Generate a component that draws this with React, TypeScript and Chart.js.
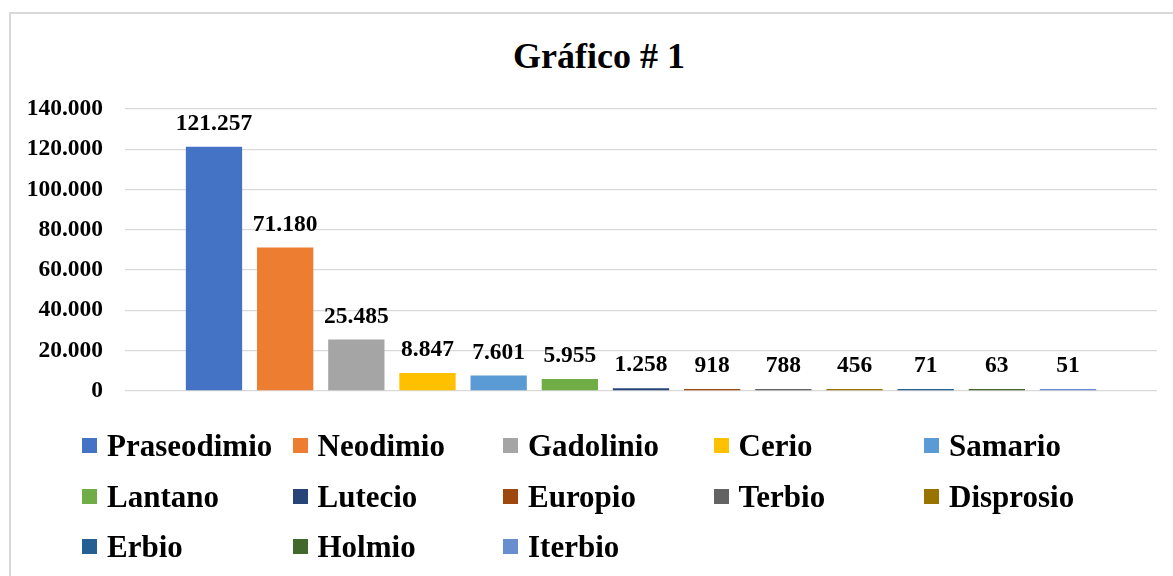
import React, { useEffect, useRef } from "react";
import { Chart, registerables } from "chart.js";

Chart.register(...registerables);

const TITLE = "Gráfico # 1";
const ELEMENTS = [
  "Praseodimio",
  "Neodimio",
  "Gadolinio",
  "Cerio",
  "Samario",
  "Lantano",
  "Lutecio",
  "Europio",
  "Terbio",
  "Disprosio",
  "Erbio",
  "Holmio",
  "Iterbio",
];
const VALUES = [121257, 71180, 25485, 8847, 7601, 5955, 1258, 918, 788, 456, 71, 63, 51];
const COLORS = [
  "#4472C4",
  "#ED7D31",
  "#A5A5A5",
  "#FFC000",
  "#5B9BD5",
  "#70AD47",
  "#264478",
  "#9E480E",
  "#636363",
  "#997300",
  "#255E91",
  "#43682B",
  "#698ED0",
];
const Y_MIN = 0;
const Y_MAX = 140000;
const Y_STEP = 20000;

const FONT = "'Liberation Serif', 'Times New Roman', serif";

function fmt(v: number): string {
  return String(Math.round(v)).replace(/\B(?=(\d{3})+(?!\d))/g, ".");
}

const valueLabels = {
  id: "valueLabels",
  afterDatasetsDraw(chart: any) {
    const ctx = chart.ctx;
    ctx.save();
    ctx.font = `bold 23.5px ${FONT}`;
    ctx.fillStyle = "#000000";
    ctx.textAlign = "center";
    ctx.textBaseline = "alphabetic";
    chart.data.datasets.forEach((ds: any, i: number) => {
      const meta = chart.getDatasetMeta(i);
      meta.data.forEach((el: any, j: number) => {
        const v = ds.data[j];
        ctx.fillText(fmt(v), el.x, el.y - 17);
      });
    });
    ctx.restore();
  },
};

export default function App() {
  const canvasRef = useRef<HTMLCanvasElement | null>(null);

  useEffect(() => {
    if (!canvasRef.current) return;
    const chart = new Chart(canvasRef.current, {
      type: "bar",
      data: {
        labels: [""],
        datasets: ELEMENTS.map((name, i) => ({
          label: name,
          data: [VALUES[i]],
          backgroundColor: COLORS[i],
          borderWidth: 0,
          minBarLength: 2,
        })),
      },
      options: {
        responsive: false,
        animation: false,
        devicePixelRatio: 1,
        datasets: {
          bar: {
            categoryPercentage: 0.8965,
            barPercentage: 0.791,
          },
        },
        layout: {
          padding: { left: 27, right: 16, top: 109, bottom: 10 },
        },
        plugins: {
          legend: { display: false },
          tooltip: { enabled: false },
          title: { display: false },
        },
        scales: {
          x: {
            display: false,
          },
          y: {
            min: Y_MIN,
            max: Y_MAX,
            border: { display: false },
            grid: {
              color: "#d9d9d9",
              lineWidth: 1.3,
              drawTicks: false,
              tickLength: 0,
            },
            ticks: {
              stepSize: Y_STEP,
              padding: 22,
              color: "#000000",
              font: { family: FONT, size: 23.5, weight: "bold" },
              callback: (v: any) => fmt(Number(v)),
            },
            afterFit: (scale: any) => {
              scale.width = 98;
            },
          },
        },
      },
      plugins: [valueLabels],
    } as any);
    return () => chart.destroy();
  }, []);

  return (
    <div
      style={{
        position: "fixed",
        left: 0,
        top: 0,
        width: 1173,
        height: 576,
        overflow: "hidden",
        background: "#ffffff",
      }}
    >
      <div
        style={{
          position: "absolute",
          left: 9,
          top: 12,
          width: 1200,
          height: 600,
          border: "2px solid #d9d9d9",
          boxSizing: "border-box",
        }}
      />
      <div
        style={{
          position: "absolute",
          left: 9,
          top: 38,
          width: 1180,
          textAlign: "center",
          fontFamily: FONT,
          fontWeight: "bold",
          fontSize: 36,
          lineHeight: "36px",
          color: "#000000",
          whiteSpace: "nowrap",
        }}
      >
        {TITLE}
      </div>
      <canvas
        ref={canvasRef}
        width={1173}
        height={427}
        style={{ position: "absolute", left: 0, top: 0, width: 1173, height: 427 }}
      />
      <div
        style={{
          position: "absolute",
          left: 82,
          top: 420,
          display: "grid",
          gridTemplateColumns: "repeat(5, 210.5px)",
          gridAutoRows: "50.7px",
          fontFamily: FONT,
          fontWeight: "bold",
          fontSize: 31,
          color: "#000000",
        }}
      >
        {ELEMENTS.map((name, i) => (
          <div key={name} style={{ display: "flex", alignItems: "center", whiteSpace: "nowrap" }}>
            <span
              style={{
                display: "inline-block",
                width: 15,
                height: 15,
                background: COLORS[i],
                marginRight: 10,
                flex: "none",
              }}
            />
            <span style={{ lineHeight: 1 }}>{name}</span>
          </div>
        ))}
      </div>
    </div>
  );
}
